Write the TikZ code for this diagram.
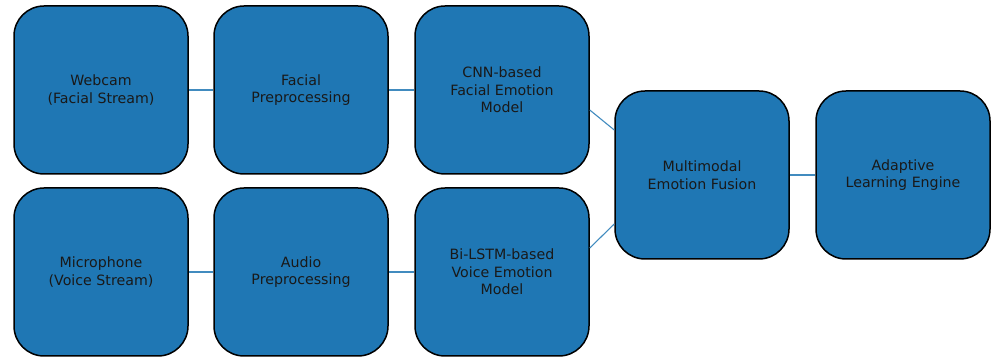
\documentclass[tikz,border=0pt]{standalone}
\usepackage{fontspec}
\setmainfont{DejaVu Sans}
\usepackage{xcolor}
\definecolor{tabblue}{HTML}{1F77B4}
\usepackage{tikz}
\usetikzlibrary{
  positioning,
  calc
}

\begin{document}
\begin{tikzpicture}[
  x=1pt, y=1pt,
  stage/.style={rectangle, draw=black, line width=1.5pt, fill=tabblue, rounded corners=30pt, minimum width=174pt, minimum height=168pt, font=\fontsize{14.2}{17.5}\selectfont, align=center, text=black!90},
  link/.style={tabblue!85!white, line width=1.1pt}
]
  \useasboundingbox (0,0) rectangle (995,358);

  % facial branch
  \node[stage] (webcam) at (101,268) {Webcam\\(Facial Stream)};
  \node[stage] (facepre) at (301,268) {Facial\\Preprocessing};
  \node[stage] (cnn) at (502,268) {CNN-based\\Facial Emotion\\Model};

  % voice branch
  \node[stage] (mic) at (101,86) {Microphone\\(Voice Stream)};
  \node[stage] (audiopre) at (301,86) {Audio\\Preprocessing};
  \node[stage] (lstm) at (502,86) {Bi-LSTM-based\\Voice Emotion\\Model};

  % fusion and output
  \node[stage] (fusion) at (702,183) {Multimodal\\Emotion Fusion};
  \node[stage] (engine) at (903,183) {Adaptive\\Learning Engine};

  \draw[link] (webcam) -- (facepre);
  \draw[link] (facepre) -- (cnn);
  \draw[link] (mic) -- (audiopre);
  \draw[link] (audiopre) -- (lstm);
  \draw[link] ($(cnn.east)+(0,-20)$) -- ($(fusion.west)+(0,45)$);
  \draw[link] ($(lstm.east)+(0,24)$) -- ($(fusion.west)+(0,-49)$);
  \draw[link] (fusion) -- (engine);
\end{tikzpicture}
\end{document}
